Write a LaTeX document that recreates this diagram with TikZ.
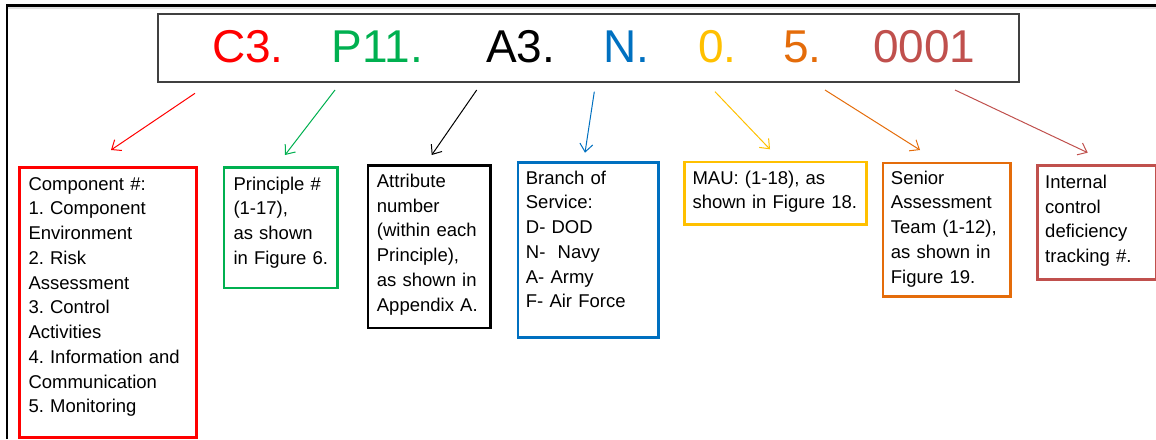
\documentclass[tikz,border=0pt]{standalone}
\usepackage{fontspec}
\setmainfont{Liberation Sans}
\usetikzlibrary{arrows.meta}
\definecolor{cRed}{HTML}{FF0000}
\definecolor{cGreen}{HTML}{00B050}
\definecolor{cBlue}{HTML}{0070C0}
\definecolor{cGold}{HTML}{FFC000}
\definecolor{cOrange}{HTML}{E46C0A}
\definecolor{cBrick}{HTML}{C0504D}
\frenchspacing
\begin{document}
\begin{tikzpicture}[x=1pt,y=-1pt,
  code/.style={anchor=base west, inner sep=0pt, font=\fontsize{46}{50}\selectfont},
  fieldbox/.style={draw=#1, line width=2.5pt, anchor=north west, inner sep=0pt},
  desc/.style={anchor=base west, inner sep=0pt, align=left, text width=#1,
    font=\fontsize{18.5}{24.75}\selectfont\frenchspacing},
  pointer/.style={draw=#1, line width=1pt, -{Straight Barb[length=8pt,width=13pt]}}
]
\useasboundingbox (0,0) rectangle (1156,439);

% page frame
\draw[black!12, line width=2pt] (8,7.8) -- (1156,7.8);
\draw[line width=2.5pt] (7,439) -- (7,5.3) -- (1156,5.3);

% identifier strip
\node[draw=black!75, line width=1.8pt, anchor=north west, inner sep=0pt,
      minimum width=861, minimum height=68] (strip) at (157,13) {};
\node[code, text=cRed]    (fC) at (212,62)   {C3.};
\node[code, text=cGreen]  (fP) at (331.5,62) {P11.};
\node[code, text=black]   (fA) at (486,62)   {A3.};
\node[code, text=cBlue]   (fN) at (603.5,62) {N.};
\node[code, text=cGold]   (fM) at (698,62)   {0.};
\node[code, text=cOrange] (fS) at (783,62)   {5.};
\node[code, text=cBrick]  (fI) at (873,62)   {0001};

% field boxes
\node[fieldbox=cRed,    minimum width=177,   minimum height=270]   (b1) at (18,166) {};
\node[fieldbox=cGreen,  minimum width=113.3, minimum height=120.7] (b2) at (222.7,166) {};
\node[fieldbox=black,   minimum width=122.3, minimum height=162.7] (b3) at (366.7,164) {};
\node[fieldbox=cBlue,   minimum width=140.3, minimum height=175]   (b4) at (516.7,161) {};
\node[fieldbox=cGold,   minimum width=181.7, minimum height=62.6]  (b5) at (683.3,160.7) {};
\node[fieldbox=cOrange, minimum width=127.3, minimum height=133.3] (b6) at (881.7,161.7) {};
\node[fieldbox=cBrick,  minimum width=119,   minimum height=114.3] (b7) at (1036,164) {};

% field descriptions
\node[desc=165] (d1) at (28.3,190) {Component \#:\\1. Component\\Environment\\2. Risk\\Assessment\\3. Control\\Activities\\4. Information and\\Communication\\5. Monitoring};
\node[desc=100] (d2) at (233.3,190) {Principle \#\\(1-17),\\as shown\\in Figure 6.};
\node[desc=110] (d3) at (376.7,187.3) {Attribute\\number\\(within each\\Principle),\\as shown in\\Appendix A.};
\node[desc=128] (d4) at (525.7,184) {Branch of\\Service:\\D- DOD\\N-\ \ Navy\\A- Army\\F- Air Force};
\node[desc=170] (d5) at (692.3,184) {MAU: (1-18), as\\shown in Figure 18.};
\node[desc=115] (d6) at (890.7,184) {Senior\\Assessment\\Team (1-12),\\as shown in\\Figure 19.};
\node[desc=105] (d7) at (1045,188.3) {Internal\\control\\deficiency\\tracking \#.};

% pointers from the strip to the boxes
\coordinate (s1) at (195,93.3);   \coordinate (e1) at (111,150);
\coordinate (s2) at (335,90);     \coordinate (e2) at (285,155);
\coordinate (s3) at (476.7,90);   \coordinate (e3) at (431.7,155);
\coordinate (s4) at (594.3,91.7); \coordinate (e4) at (585,152.7);
\coordinate (s5) at (715,91.7);   \coordinate (e5) at (770,149.3);
\coordinate (s6) at (825,90);     \coordinate (e6) at (920,150);
\coordinate (s7) at (955,90);     \coordinate (e7) at (1087.7,152.7);
\draw[pointer=cRed]    (s1) -- (e1);
\draw[pointer=cGreen]  (s2) -- (e2);
\draw[pointer=black]   (s3) -- (e3);
\draw[pointer=cBlue]   (s4) -- (e4);
\draw[pointer=cGold]   (s5) -- (e5);
\draw[pointer=cOrange] (s6) -- (e6);
\draw[pointer=cBrick]  (s7) -- (e7);
\end{tikzpicture}
\end{document}
